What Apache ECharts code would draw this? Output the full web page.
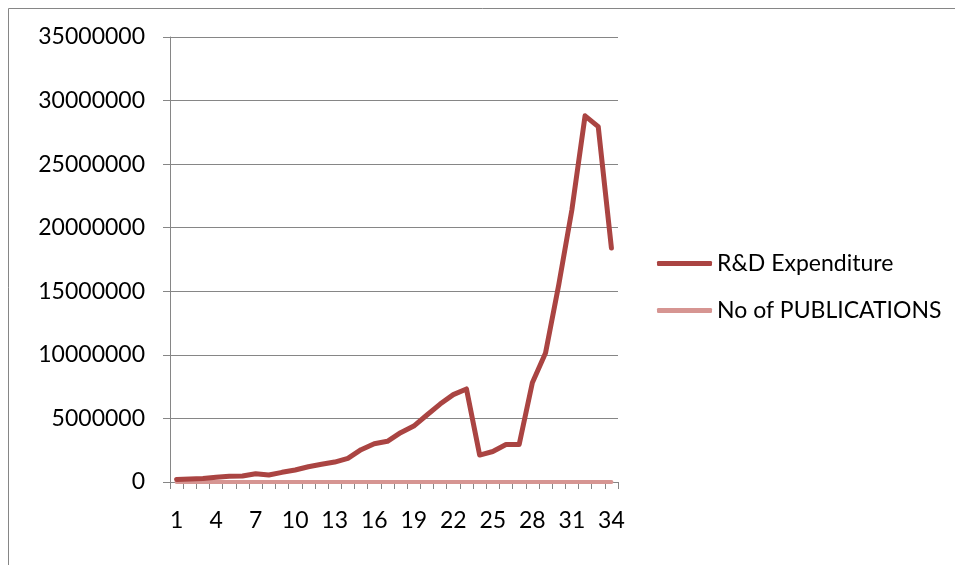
<!DOCTYPE html>
<html>
<head>
<meta charset="utf-8">
<script src="https://cdn.jsdelivr.net/npm/echarts@6/dist/echarts.min.js"></script>
<style>
  html, body { margin: 0; padding: 0; background: #fff; }
  #chart { width: 955px; height: 565px; }
</style>
</head>
<body>
<div id="chart"></div>
<script>
// Year index 1..34
const categories = Array.from({ length: 34 }, (_, i) => String(i + 1));

// R&D expenditure per year
const rdExpenditure = [
  200000, 230000, 280000, 370000, 450000, 470000, 650000, 550000, 760000, 940000,
  1200000, 1390000, 1570000, 1860000, 2540000, 3010000, 3200000, 3880000, 4400000, 5270000,
  6130000, 6870000, 7320000, 2120000, 2400000, 2950000, 2950000, 7800000, 10150000, 15500000,
  21400000, 28800000, 27950000, 18400000
];

// Publication counts (too small to register on this scale)
const publications = [
  0, 0, 0, 0, 0, 0, 0, 0, 0, 0,
  0, 0, 0, 0, 0, 0, 0, 0, 0, 0,
  0, 0, 0, 0, 0, 0, 0, 0, 0, 0,
  0, 0, 0, 0
];

const yTicks = { min: 0, max: 35000000, step: 5000000 };

const FONT = 'Lato';
const AXIS_GREY = '#868686';
const RD_COLOR = '#AA4442';
const PUB_COLOR = '#D69592';

const chart = echarts.init(document.getElementById('chart'), null, { renderer: 'canvas' });

chart.setOption({
  backgroundColor: '#ffffff',
  animation: false,
  graphic: [{
    type: 'rect',
    shape: { x: 8.5, y: 8.5, width: 1200, height: 1200 },
    style: { fill: 'none', stroke: AXIS_GREY, lineWidth: 1 },
    silent: true,
    z: -10
  }],
  grid: { left: 170, top: 37, right: 337, bottom: 83, containLabel: false },
  legend: {
    orient: 'vertical',
    left: 657,
    top: 252,
    padding: 0,
    itemWidth: 55,
    itemHeight: 5,
    itemGap: 24,
    icon: 'roundRect',
    textStyle: { fontFamily: FONT, fontSize: 23, color: '#000' },
    data: [
      { name: 'R&D Expenditure', itemStyle: { color: RD_COLOR } },
      { name: 'No of PUBLICATIONS', itemStyle: { color: PUB_COLOR } }
    ]
  },
  xAxis: {
    type: 'category',
    data: categories,
    boundaryGap: true,
    axisLine: { show: true, lineStyle: { color: AXIS_GREY, width: 1 } },
    axisTick: { show: true, length: 7, interval: 0, lineStyle: { color: AXIS_GREY } },
    axisLabel: {
      interval: 2,
      margin: 27,
      fontFamily: FONT,
      fontSize: 23,
      color: '#000'
    },
    splitLine: { show: false }
  },
  yAxis: {
    type: 'value',
    min: yTicks.min,
    max: yTicks.max,
    interval: yTicks.step,
    axisLine: { show: true, lineStyle: { color: AXIS_GREY, width: 1 } },
    axisTick: { show: true, length: 7, lineStyle: { color: AXIS_GREY } },
    axisLabel: {
      margin: 25,
      fontFamily: FONT,
      fontSize: 23,
      color: '#000',
      formatter: (v) => String(v)
    },
    splitLine: { show: true, lineStyle: { color: AXIS_GREY, width: 1 } }
  },
  series: [
    {
      name: 'No of PUBLICATIONS',
      type: 'line',
      data: publications,
      symbol: 'none',
      color: PUB_COLOR,
      lineStyle: { color: PUB_COLOR, width: 4, cap: 'round', join: 'round' },
      z: 2
    },
    {
      name: 'R&D Expenditure',
      type: 'line',
      data: rdExpenditure,
      symbol: 'none',
      color: RD_COLOR,
      lineStyle: { color: RD_COLOR, width: 5, cap: 'round', join: 'round' },
      z: 3
    }
  ]
});
</script>
</body>
</html>
